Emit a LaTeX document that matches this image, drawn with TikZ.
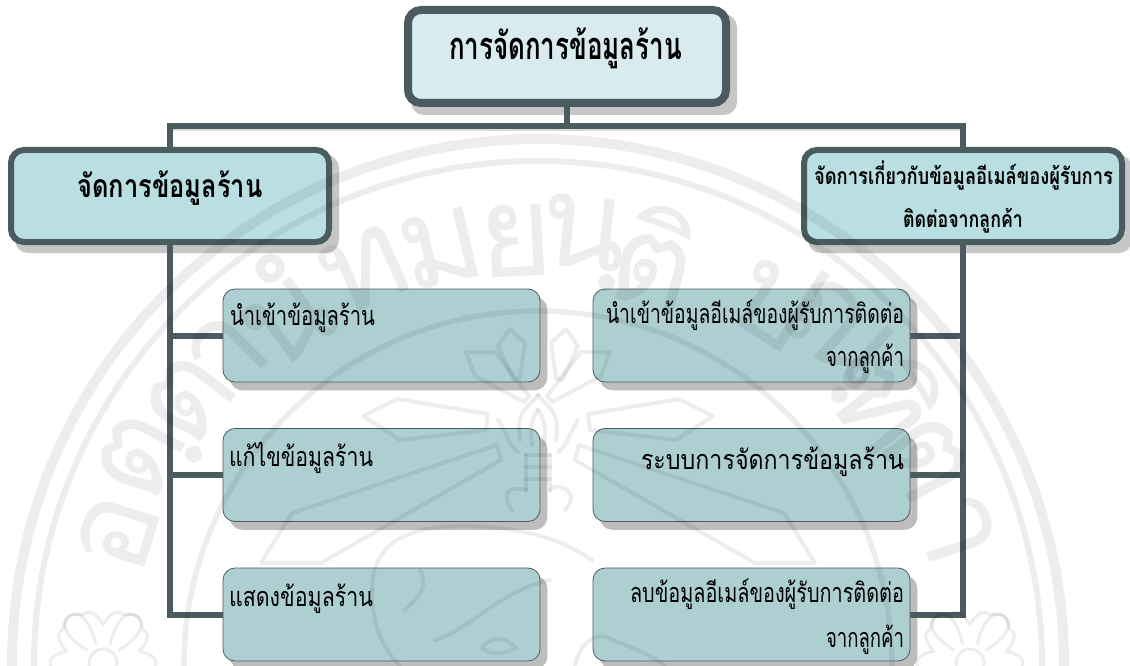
\documentclass[tikz,border=0pt]{standalone}
\usepackage{fontspec}
\usepackage{graphicx}
\setmainfont[Script=Thai]{Loma}
\usetikzlibrary{calc}
\pgfdeclarelayer{shadowl}
\pgfdeclarelayer{connl}
\pgfdeclarelayer{wml}
\pgfsetlayers{shadowl,connl,main,wml}
\definecolor{linec}{HTML}{4A5C5E}
\definecolor{topf}{HTML}{D8ECEF}
\definecolor{midf}{HTML}{B9DFE3}
\definecolor{lowf}{HTML}{AECFD2}
\definecolor{shadc}{HTML}{C6C6C6}
\definecolor{shadd}{HTML}{BDBDBD}
\definecolor{shadl}{HTML}{DADADA}
\newcommand{\tx}[2]{\resizebox{#1pt}{\height}{#2}}
\newcommand{\wml}[3]{%
  \node[wmletter,rotate=-#1] at ({538+#2*sin(#1)},{665-#2*cos(#1)}) {#3};}
\newcommand{\shad}[3]{%
  \fill[#3,rounded corners=13pt] ($(#1.north west)+(7-#2,8-#2)$) rectangle ($(#1.south east)+(7+#2,8+#2)$);}
\tikzset{
  topbox/.style={draw=linec,fill=topf,line width=8pt,rounded corners=13pt,outer sep=0pt,inner sep=0pt,minimum width=318pt,minimum height=93pt},
  midbox/.style={draw=linec,fill=midf,line width=6pt,rounded corners=13pt,outer sep=0pt,inner sep=0pt,minimum width=318pt,minimum height=92pt},
  lowbox/.style={draw=linec,fill=lowf,line width=.8pt,rounded corners=12pt,outer sep=0pt,inner sep=0pt,minimum width=317pt,minimum height=93pt},
  conn/.style={draw=linec,line width=6pt},
  lab/.style={inner sep=0pt,outer sep=0pt,text=black,font=\fontsize{27}{27}\selectfont},
  boldlab/.style={lab,font=\fontsize{#1}{#1}\selectfont\bfseries},
  wmletter/.style={inner sep=0pt,text=black,font=\fontsize{128}{128}\selectfont},
  wmline/.style={line width=4pt,line join=round,line cap=round},
}
\begin{document}
\begin{tikzpicture}[x=1pt,y=-1pt]
\useasboundingbox (0,0) rectangle (1130,666);
% boxes
\node[topbox] (top) at (567,56.5) {};
\node[midbox] (lb) at (170,196) {};
\node[midbox] (rb) at (963,196) {};
\node[lowbox] (s1) at (381.5,335.5) {};
\node[lowbox] (s2) at (381.5,475) {};
\node[lowbox] (s3) at (381.5,614.5) {};
\node[lowbox] (r1) at (751.5,335.5) {};
\node[lowbox] (r2) at (751.5,475) {};
\node[lowbox] (r3) at (751.5,614.5) {};
\coordinate (bus) at (567,126);
% texts
\node[boldlab=38,anchor=base west] (ttop) at (449,60) {\tx{233}{การจัดการข้อมูลร้าน}};
\node[boldlab=32,anchor=base west] (tlb) at (77.5,197) {\tx{185}{จัดการข้อมูลร้าน}};
\node[boldlab=23,anchor=base west] (trb1) at (814,185) {\tx{299}{จัดการเกี่ยวกับข้อมูลอีเมล์ของผู้รับการ}};
\node[boldlab=23,anchor=base west] (trb2) at (903,227) {\tx{120}{ติดต่อจากลูกค้า}};
\node[lab,anchor=base west] (ts1) at (230,325) {\tx{145}{นำเข้าข้อมูลร้าน}};
\node[lab,anchor=base west] (ts2) at (229,466) {\tx{144}{แก้ไขข้อมูลร้าน}};
\node[lab,anchor=base west] (ts3) at (229,606) {\tx{144}{แสดงข้อมูลร้าน}};
\node[lab,anchor=base west] (tr1a) at (606,323) {\tx{298}{นำเข้าข้อมูลอีเมล์ของผู้รับการติดต่อ}};
\node[lab,anchor=base west] (tr1b) at (826,366) {\tx{78}{จากลูกค้า}};
\node[lab,anchor=base west] (tr2) at (641,469) {\tx{263}{ระบบการจัดการข้อมูลร้าน}};
\node[lab,anchor=base west] (tr3a) at (630,602) {\tx{274}{ลบข้อมูลอีเมล์ของผู้รับการติดต่อ}};
\node[lab,anchor=base west] (tr3b) at (826,647) {\tx{78}{จากลูกค้า}};
% shadows
\begin{pgfonlayer}{shadowl}
  \draw[shadl,line width=6pt] ($(lb.north|-bus)+(3,2.5)$) -- ($(rb.north|-bus)+(-3,2.5)$);
  \shad{top}{4}{shadc}
  \shad{lb}{3}{shadc}
  \shad{rb}{3}{shadc}
  \foreach \n in {s1,s2,s3,r1,r2,r3} {\shad{\n}{0.4}{shadd}}
\end{pgfonlayer}
% connectors
\begin{pgfonlayer}{connl}
  \draw[conn] (top.south) -- (bus);
  \draw[conn] (lb.north) |- (bus) -| (rb.north);
  \draw[conn] (lb.south) |- (s3.west);
  \draw[conn] (lb.south) |- (s1.west);
  \draw[conn] (lb.south) |- (s2.west);
  \draw[conn] (rb.south) |- (r3.east);
  \draw[conn] (rb.south) |- (r1.east);
  \draw[conn] (rb.south) |- (r2.east);
\end{pgfonlayer}
% watermark
\begin{pgfonlayer}{wml}
\begin{scope}
\clip (0,0) rectangle (1130,666);
\begin{scope}[opacity=.07]
  \draw[line width=10pt] (538,665) circle (526pt);
  \draw[line width=6pt] (538,665) circle (504pt);
  \draw[line width=5.5pt] (538,665) circle (354pt);
  \wml{-72.6}{440}{อ}
  \wml{-62.3}{440}{ตฺ}
  \wml{-52.7}{440}{ต}
  \wml{-45}{440}{า}
  \wml{-36}{440}{นํ}
  \wml{-23.7}{432}{ท}
  \wml{-13}{428}{ม}
  \wml{-3}{425}{ย}
  \wml{6}{425}{นฺ}
  \wml{16}{425}{ติ}
  \wml{33}{440}{ป}
  \wml{42}{440}{ณฺ}
  \wml{52}{440}{ฑิ}
  \wml{62}{440}{ต}
  \wml{72}{440}{า}
  % rays
  \foreach \s in {1,-1} {
  \begin{scope}[shift={(538,0)},xscale=\s]
    \draw[wmline] (-28,329) -- (-13,343) -- (-18,378) -- (-24,380) -- (-40,346) -- cycle;
    \draw[wmline] (-72,352) -- (-43,352) -- (-9,396) -- (-14,402) -- (-63,376) -- cycle;
    \draw[wmline] (-175,416) -- (-141,399) -- (-50,414) -- (-52,430) -- (-138,440) -- cycle;
    \draw[wmline] (-41,445) -- (-37,460) -- (-217,563) -- (-277,563) -- (-246,513) -- cycle;
    \draw[wmline] (-40,420) .. controls (-30,435) and (-30,445) .. (-20,452);
    \draw[wmline] (0,395) .. controls (-12,410) and (-22,410) .. (-18,440);
    \draw[wmline] (0,410) .. controls (-8,420) and (-8,435) .. (-6,445);
    \draw[wmline] (-12,455) -- (-12,490);
  \end{scope}}
  \draw[wmline] (526,455) -- (550,455) (526,467) -- (550,467) (526,479) -- (550,479);
  \draw[wmline] (512,510) .. controls (496,485) and (520,488) .. (526,490);
  \draw[wmline] (565,510) .. controls (583,490) and (555,482) .. (550,490);
  % elephants
  \draw[wmline] (372,590) .. controls (372,535) and (420,520) .. (500,528)
     .. controls (545,535) and (560,540) .. (592,560);
  \draw[wmline] (372,590) .. controls (372,630) and (385,650) .. (400,666);
  \draw[wmline] (420,570) .. controls (430,590) and (415,600) .. (405,610);
  \draw[wmline] (435,640) .. controls (470,630) and (500,590) .. (550,580);
  \draw[wmline] (482,648) .. controls (490,636) and (505,636) .. (516,648) .. controls (505,655) and (490,655) .. (482,648);
  \draw[wmline] (575,666) .. controls (580,640) and (600,630) .. (612,640) .. controls (640,650) and (650,655) .. (665,666);
  % lotus flowers
  \foreach \cx in {103,970} {
    \foreach \a in {-72,0,72} {
      \draw[wmline,line width=3pt,rotate around={\a:(\cx,663)}]
        (\cx-16,650) .. controls (\cx-50,630) and (\cx-40,610) .. (\cx-20,615)
        .. controls (\cx-10,605) and (\cx,625) .. (\cx,625)
        .. controls (\cx,625) and (\cx+10,605) .. (\cx+20,615)
        .. controls (\cx+40,610) and (\cx+50,630) .. (\cx+16,650);
    }
    \draw[wmline,line width=3pt] (\cx,663) circle (14pt);
  }
\end{scope}
\end{scope}
\end{pgfonlayer}
\end{tikzpicture}
\end{document}
